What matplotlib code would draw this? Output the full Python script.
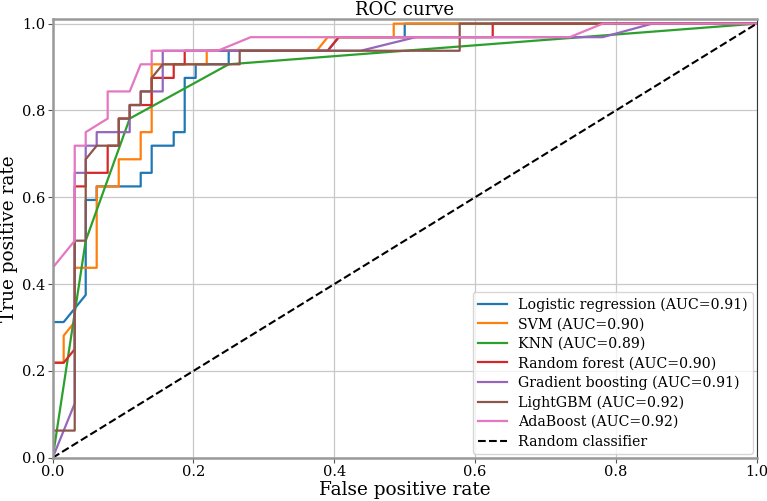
import matplotlib
matplotlib.use("Agg")
import matplotlib.pyplot as plt

# ROC points (fpr, tpr)
lr_fpr = [0.0, 0.0, 0.0156, 0.0313, 0.0469, 0.0469, 0.0625, 0.0625, 0.125, 0.125, 0.1406, 0.1406, 0.1719, 0.1719,
          0.1875, 0.1875, 0.2031, 0.2031, 0.25, 0.25, 0.3906, 0.4063, 0.5, 0.5, 1.0]
lr_tpr = [0.0, 0.3125, 0.3125, 0.3438, 0.375, 0.5938, 0.5938, 0.625, 0.625, 0.6563, 0.6563, 0.7188, 0.7188, 0.75,
          0.75, 0.875, 0.875, 0.9063, 0.9063, 0.9375, 0.9375, 0.9688, 0.9688, 1.0, 1.0]

svm_fpr = [0.0, 0.0, 0.0156, 0.0156, 0.0313, 0.0313, 0.0625, 0.0625, 0.0938, 0.0938, 0.125, 0.125, 0.1406, 0.1406,
           0.2188, 0.2188, 0.375, 0.3906, 0.4844, 0.4844, 1.0]
svm_tpr = [0.0, 0.2188, 0.2188, 0.2813, 0.3125, 0.4375, 0.4375, 0.625, 0.625, 0.6875, 0.6875, 0.75, 0.75, 0.9063,
           0.9063, 0.9375, 0.9375, 0.9688, 0.9688, 1.0, 1.0]

knn_fpr = [0.0, 0.0469, 0.1094, 0.25, 1.0]
knn_tpr = [0.0, 0.5, 0.7813, 0.9063, 1.0]

rf_fpr = [0.0, 0.0, 0.0156, 0.0313, 0.0313, 0.0469, 0.0469, 0.0781, 0.0781, 0.0938, 0.0938, 0.1094, 0.1094, 0.1406,
          0.1406, 0.1719, 0.1719, 0.1875, 0.1875, 0.3906, 0.4063, 0.625, 0.625, 1.0]
rf_tpr = [0.0, 0.2188, 0.2188, 0.25, 0.625, 0.625, 0.6563, 0.6563, 0.7188, 0.7188, 0.7813, 0.7813, 0.8125, 0.8125,
          0.875, 0.875, 0.9063, 0.9063, 0.9375, 0.9375, 0.9688, 0.9688, 1.0, 1.0]

gb_fpr = [0.0, 0.0313, 0.0313, 0.0469, 0.0469, 0.0625, 0.0625, 0.1094, 0.1094, 0.125, 0.125, 0.1563, 0.1563, 0.4375,
          0.5156, 0.7813, 0.8516, 1.0]
gb_tpr = [0.0, 0.125, 0.6563, 0.6563, 0.7188, 0.7188, 0.75, 0.75, 0.8125, 0.8125, 0.8438, 0.8438, 0.9375, 0.9375,
          0.9688, 0.9688, 1.0, 1.0]

lgbm_fpr = [0.0, 0.0, 0.0313, 0.0313, 0.0469, 0.0469, 0.0625, 0.0938, 0.0938, 0.1094, 0.1094, 0.125, 0.125, 0.1406,
            0.1406, 0.1563, 0.2656, 0.2656, 0.5781, 0.5781, 1.0]
lgbm_tpr = [0.0, 0.0625, 0.0625, 0.5, 0.5, 0.6875, 0.7188, 0.7188, 0.7813, 0.7813, 0.8125, 0.8125, 0.8438, 0.8438,
            0.875, 0.9063, 0.9063, 0.9375, 0.9375, 1.0, 1.0]

ada_fpr = [0.0, 0.0, 0.0313, 0.0313, 0.0469, 0.0469, 0.0781, 0.0781, 0.1094, 0.125, 0.1406, 0.1406, 0.2344, 0.2813,
           0.7344, 0.7813, 1.0]
ada_tpr = [0.0, 0.4375, 0.5, 0.7188, 0.7188, 0.75, 0.7813, 0.8438, 0.8438, 0.9063, 0.9063, 0.9375, 0.9375, 0.9688,
           0.9688, 1.0, 1.0]

model_names = ["Logistic regression", "SVM", "KNN", "Random forest", "Gradient boosting", "LightGBM", "AdaBoost"]
auc_values = [0.91, 0.90, 0.89, 0.90, 0.91, 0.92, 0.92]
curves = [(lr_fpr, lr_tpr), (svm_fpr, svm_tpr), (knn_fpr, knn_tpr), (rf_fpr, rf_tpr),
          (gb_fpr, gb_tpr), (lgbm_fpr, lgbm_tpr), (ada_fpr, ada_tpr)]

plt.rcParams['font.family'] = 'DejaVu Serif'

fig = plt.figure(figsize=(7.67, 5.01), dpi=100)
ax = fig.add_axes([0.0687, 0.0864, 0.9179, 0.8751])

for name, auc, (fpr, tpr) in zip(model_names, auc_values, curves):
    ax.plot(fpr, tpr, lw=1.6, label=f"{name} (AUC={auc:.2f})")

ax.plot([0, 1], [0, 1], 'k--', lw=1.5, label="Random classifier")

ax.set_xlim(0.0, 1.0)
ax.set_ylim(0.0, 1.01)
ax.grid(True, color='#c8c8c8', lw=0.9)
ax.set_axisbelow(True)
for side in ['left', 'top', 'bottom']:
    ax.spines[side].set_color('#999999')
    ax.spines[side].set_linewidth(1.8)
ax.spines['right'].set_color('#333333')
ax.spines['right'].set_linewidth(0.8)

ax.tick_params(labelsize=10.5, length=3.5, color='#555555', pad=2)
ax.set_xlabel("False positive rate", fontsize=13.3, labelpad=1)
ax.set_ylabel("True positive rate", fontsize=13.3, labelpad=3)
ax.set_title("ROC curve", fontsize=13, pad=2)
ax.legend(loc='lower right', fontsize=10.2, borderaxespad=0.25, labelspacing=0.38)

fig.savefig("out.png", dpi=100)
